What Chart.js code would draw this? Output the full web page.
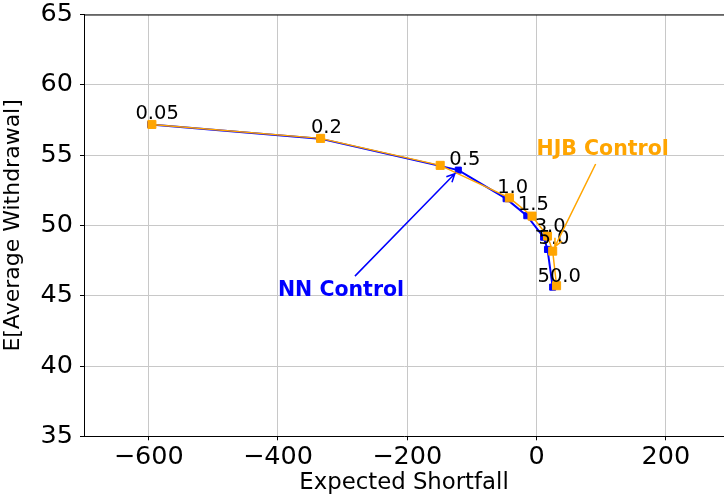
<!DOCTYPE html>
<html>
<head>
<meta charset="utf-8">
<script src="https://cdn.jsdelivr.net/npm/chart.js@4.4.1/dist/chart.umd.min.js"></script>
<style>
  html, body { margin: 0; padding: 0; background: #fff; }
  canvas { display: block; }
</style>
</head>
<body>
<canvas id="frontier" width="724" height="497"></canvas>
<script>
// risk-aversion parameter for each point on the frontier
const riskLabels = ['0.05', '0.2', '0.5', '1.0', '1.5', '3.0', '5.0', '50.0'];

// HJB control (orange)
const hjbShortfall  = [-595, -334, -149, -42, -7, 17, 25, 31];
const hjbWithdrawal = [57.18, 56.19, 54.27, 51.96, 50.66, 49.24, 48.17, 45.71];

// NN control (blue)
const nnShortfall  = [-597, -335, -121, -47, -15, 11, 17, 25];
const nnWithdrawal = [57.17, 56.17, 53.93, 51.90, 50.69, 49.16, 48.29, 45.61];

const xTicks = [-600, -400, -200, 0, 200];
const yTicks = [35, 40, 45, 50, 55, 60, 65];

// callout text anchors (data coords) and which point the arrow targets
const callouts = [
  { text: 'NN Control',  color: '#0000ff', x: -400, y: 45, series: 'nn',  idx: 2 },
  { text: 'HJB Control', color: '#ffa500', x: 0,    y: 55, series: 'hjb', idx: 6 }
];

const BLUE = '#0000ff';
const ORANGE = '#ffa500';
const FONT = "'DejaVu Sans', sans-serif";

function toPoints(xs, ys) {
  return xs.map((x, i) => ({ x: x, y: ys[i] }));
}

const topSpine = {
  id: 'topSpine',
  beforeDatasetsDraw(chart) {
    const { ctx, chartArea } = chart;
    ctx.save();
    ctx.strokeStyle = '#000';
    ctx.lineWidth = 1;
    ctx.beginPath();
    ctx.moveTo(chartArea.left, chartArea.top + 0.5);
    ctx.lineTo(chartArea.right, chartArea.top + 0.5);
    ctx.stroke();
    ctx.restore();
  }
};

function drawArrow(ctx, x0, y0, x1, y1, color) {
  const ang = Math.atan2(y1 - y0, x1 - x0);
  const hl = 9, spread = 0.45;
  ctx.save();
  ctx.strokeStyle = color;
  ctx.lineWidth = 1.5;
  ctx.beginPath();
  ctx.moveTo(x0, y0);
  ctx.lineTo(x1, y1);
  ctx.moveTo(x1 - hl * Math.cos(ang - spread), y1 - hl * Math.sin(ang - spread));
  ctx.lineTo(x1, y1);
  ctx.lineTo(x1 - hl * Math.cos(ang + spread), y1 - hl * Math.sin(ang + spread));
  ctx.stroke();
  ctx.restore();
}

const annotations = {
  id: 'annotations',
  afterDatasetsDraw(chart) {
    const { ctx } = chart;
    const xs = chart.scales.x, ys = chart.scales.y;

    // point labels, placed just above/right of the NN points
    ctx.save();
    ctx.font = '19.5px ' + FONT;
    ctx.fillStyle = '#000';
    ctx.textAlign = 'center';
    ctx.textBaseline = 'alphabetic';
    riskLabels.forEach((lab, i) => {
      const px = xs.getPixelForValue(nnShortfall[i]) + 6.5;
      const py = ys.getPixelForValue(nnWithdrawal[i]) - 5.3;
      ctx.fillText(lab, px, py);
    });
    ctx.restore();

    // callouts with arrows
    callouts.forEach(c => {
      const fs = 20.5;
      ctx.save();
      ctx.font = 'bold ' + fs + 'px ' + FONT;
      const w = ctx.measureText(c.text).width;
      const tx = xs.getPixelForValue(c.x);
      const ty = ys.getPixelForValue(c.y);
      ctx.fillStyle = c.color;
      ctx.textAlign = 'left';
      ctx.textBaseline = 'alphabetic';
      ctx.fillText(c.text, tx, ty);
      ctx.restore();

      const sx = c.series === 'nn' ? nnShortfall : hjbShortfall;
      const sy = c.series === 'nn' ? nnWithdrawal : hjbWithdrawal;
      const gx = xs.getPixelForValue(sx[c.idx]);
      const gy = ys.getPixelForValue(sy[c.idx]);

      const pad = 4;
      const left = tx - pad, right = tx + w + pad;
      const top = ty - 0.76 * fs - pad, bottom = ty + 0.24 * fs + pad;
      const cx = (left + right) / 2, cy = (top + bottom) / 2;
      const dx = gx - cx, dy = gy - cy;
      let t = Infinity;
      if (dx !== 0) t = Math.min(t, ((dx > 0 ? right : left) - cx) / dx);
      if (dy !== 0) t = Math.min(t, ((dy > 0 ? bottom : top) - cy) / dy);
      const x0 = cx + dx * t, y0 = cy + dy * t;
      const len = Math.hypot(gx - x0, gy - y0);
      const shrink = 5;
      const x1 = gx - (gx - x0) / len * shrink;
      const y1 = gy - (gy - y0) / len * shrink;
      drawArrow(ctx, x0, y0, x1, y1, c.color);
    });
  }
};

new Chart(document.getElementById('frontier'), {
  type: 'scatter',
  data: {
    datasets: [
      {
        label: 'HJB Control',
        data: toPoints(hjbShortfall, hjbWithdrawal),
        showLine: true,
        borderColor: ORANGE,
        backgroundColor: ORANGE,
        borderWidth: 1.5,
        pointStyle: 'rect',
        pointRadius: 5.7,
        pointBorderWidth: 1,
        pointBorderColor: ORANGE,
        pointBackgroundColor: ORANGE,
        order: 0
      },
      {
        label: 'NN Control',
        data: toPoints(nnShortfall, nnWithdrawal),
        showLine: true,
        borderColor: BLUE,
        backgroundColor: BLUE,
        borderWidth: 2,
        pointStyle: 'rect',
        pointRadius: 4.3,
        pointBorderWidth: 1,
        pointBorderColor: BLUE,
        pointBackgroundColor: BLUE,
        order: 1
      }
    ]
  },
  options: {
    responsive: false,
    animation: false,
    layout: { autoPadding: false, padding: { top: 14.5, right: 0, left: 0, bottom: 0 } },
    plugins: {
      legend: { display: false },
      tooltip: { enabled: false }
    },
    scales: {
      x: {
        type: 'linear',
        min: -700,
        max: 290,
        afterBuildTicks: s => { s.ticks = xTicks.map(v => ({ value: v })); },
        afterFit: s => {
          s.height = 60.7;
          s.paddingLeft = 0; s.paddingRight = 0; s.paddingTop = 0; s.paddingBottom = 0;
        },
        grid: { color: '#c8c8c8', lineWidth: 1, tickColor: '#000', tickLength: 4 },
        border: { color: '#000', width: 1 },
        ticks: {
          color: '#000',
          font: { family: FONT, size: 25.5 },
          padding: 2,
          maxRotation: 0,
          callback: v => (v < 0 ? '\u2212' + Math.abs(v) : String(v))
        },
        title: {
          display: true,
          text: 'Expected Shortfall',
          color: '#000',
          font: { family: FONT, size: 22.8 },
          padding: { top: 0, bottom: 0 }
        }
      },
      y: {
        type: 'linear',
        min: 35,
        max: 65,
        afterBuildTicks: s => { s.ticks = yTicks.map(v => ({ value: v })); },
        afterFit: s => {
          s.width = 84;
          s.paddingLeft = 0; s.paddingRight = 0; s.paddingTop = 0; s.paddingBottom = 0;
        },
        grid: { color: '#c8c8c8', lineWidth: 1, tickColor: '#000', tickLength: 4 },
        border: { color: '#000', width: 1 },
        ticks: {
          color: '#000',
          font: { family: FONT, size: 25.5 },
          padding: 7
        },
        title: {
          display: true,
          text: 'E[Average Withdrawal]',
          color: '#000',
          font: { family: FONT, size: 22 },
          padding: { top: 0, bottom: 0 }
        }
      }
    }
  },
  plugins: [topSpine, annotations]
});
</script>
</body>
</html>
